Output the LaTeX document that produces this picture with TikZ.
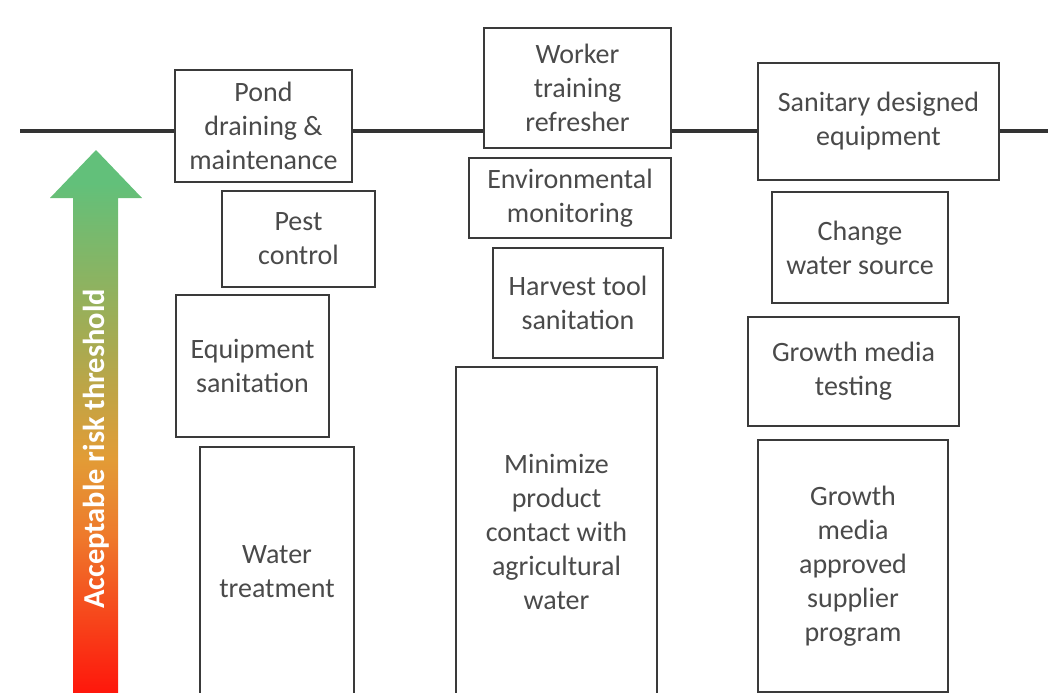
\documentclass[tikz,border=0pt]{standalone}
\usepackage{fontspec}
\setmainfont{Carlito}

\definecolor{boxgray}{HTML}{3A3A3A}
\definecolor{txtgray}{HTML}{4A4A4A}
\definecolor{linegray}{HTML}{333333}
\definecolor{riskred}{HTML}{FF120A}
\definecolor{riskorange}{HTML}{EE7A2C}
\definecolor{riskamber}{HTML}{E29C36}
\definecolor{riskolive}{HTML}{A9AA50}
\definecolor{riskgreen}{HTML}{62C07A}

\pgfdeclareverticalshading{riskshade}{100bp}{color(0bp)=(riskred); color(25bp)=(riskred); color(40bp)=(riskorange); color(47bp)=(riskamber); color(57bp)=(riskolive); color(72bp)=(riskgreen); color(100bp)=(riskgreen)}

\begin{document}
\begin{tikzpicture}[x=0.5pt, y=-0.5pt,
		ctrl/.style={draw=boxgray, line width=1.25pt, fill=white, align=center, inner sep=0pt, text=txtgray, font=\fontsize{14}{17}\selectfont},
		threshold/.style={draw=linegray, line width=2pt}]
			\useasboundingbox (0,0) rectangle (1048,692);

			% Draw the threshold line
			\coordinate (thrL) at (20,131);
			\coordinate (thrR) at (1060,131);
			\draw[threshold] (thrL) -- (thrR);

			% Draw the risk arrow
			\shade[shading=riskshade] (73,700) -- (73,198) -- (50,198) -- (96,150) -- (142,198) -- (118,198) -- (118,700) -- cycle;
			\node[rotate=90, text=white, font=\fontsize{15.2}{18}\selectfont\bfseries] (risklbl) at (96,449) {Acceptable risk threshold};

			% Draw the first column
			\node[ctrl, minimum width=88.5pt, minimum height=56pt] (pond) at (263.5,126) {Pond\\draining \&\\maintenance};
			\node[ctrl, minimum width=76.5pt, minimum height=48pt] (pest) at (298.5,239) {Pest\\control};
			\node[ctrl, minimum width=76.5pt, minimum height=71pt] (equip) at (252.5,366) {Equipment\\sanitation};
			\node[ctrl, minimum width=77pt, minimum height=124.5pt] (water) at (277,571.5) {Water\\treatment};

			% Draw the second column
			\node[ctrl, minimum width=93.5pt, minimum height=60pt] (worker) at (577.5,88) {Worker\\training\\refresher};
			\node[ctrl, minimum width=101pt, minimum height=40pt] (envmon) at (570,198) {Environmental\\monitoring};
			\node[ctrl, minimum width=85pt, minimum height=55pt] (harvest) at (578,303) {Harvest tool\\sanitation};
			\node[ctrl, minimum width=100.5pt, minimum height=164.5pt] (minim) at (556.5,531.5) {Minimize\\product\\contact with\\agricultural\\water};

			% Draw the third column
			\node[ctrl, minimum width=120.5pt, minimum height=58.5pt] (sanit) at (878.5,121.5) {Sanitary designed\\equipment};
			\node[ctrl, minimum width=88pt, minimum height=55.5pt] (source) at (860,247.5) {Change\\water source};
			\node[ctrl, minimum width=105.5pt, minimum height=54.5pt] (testing) at (853.5,371.5) {Growth media\\testing};
			\node[ctrl, minimum width=95pt, minimum height=126pt] (supplier) at (853,566) {Growth\\media\\approved\\supplier\\program};
		\end{tikzpicture}
\end{document}
